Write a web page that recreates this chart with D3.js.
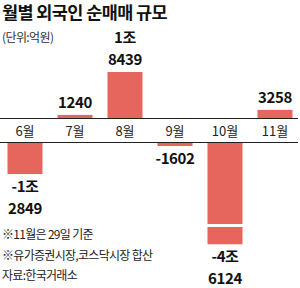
<!DOCTYPE html>
<html>
<head>
<meta charset="utf-8">
<script src="https://cdn.jsdelivr.net/npm/d3@7"></script>
<style>
  body { margin: 0; background: #fff; }
  svg { display: block; }
</style>
</head>
<body>
<svg id="chart" width="300" height="288"></svg>
<script>
const months = ['6월', '7월', '8월', '9월', '10월', '11월'];
const values = [-12849, 1240, 18439, -1602, -46124, 3258]; // 억원
const notes = ['※11월은 29일 기준', '※유가증권시장,코스닥시장 합산', '자료:한국거래소'];

const W = 300, H = 288;
const posBase = 118, negBase = 142;   // band between the two lines holds the month labels
const barColor = '#e6665e';
const numFont = "'Liberation Sans Narrow', 'Noto Sans CJK KR', sans-serif";
const krFont = "'Noto Sans CJK KR', sans-serif";
const cap = 41000; // 10월 bar is broken beyond this

const svg = d3.select('#chart');

// 억 -> 조/억 two line label
function fmt(v) {
  const sign = v < 0 ? '-' : '';
  const a = Math.abs(v);
  if (a >= 10000) return [sign + Math.floor(a / 10000) + '조', String(a % 10000)];
  return [sign + a];
}

const x = d3.scaleBand().domain(months).range([0, W]).paddingInner(0.3).paddingOuter(0.15);
const h = d3.scaleLinear().domain([0, 18439]).range([0, 46]);

// title
svg.append('text')
  .attr('x', 2).attr('y', 19)
  .attr('font-family', krFont).attr('font-size', 17.5).attr('font-weight', 700)
  .attr('letter-spacing', -0.6).attr('fill', '#111')
  .text('월별 외국인 순매매 규모');

svg.append('text')
  .attr('x', 2).attr('y', 42)
  .attr('font-family', krFont).attr('font-size', 12)
  .attr('letter-spacing', -0.6).attr('fill', '#333')
  .text('(단위:억원)');

const data = months.map((m, i) => ({ m, v: values[i] }));

// bars
const bars = svg.append('g');
bars.selectAll('rect')
  .data(data)
  .enter().append('rect')
  .attr('x', d => x(d.m))
  .attr('width', x.bandwidth())
  .attr('y', d => d.v >= 0 ? posBase - h(d.v) : negBase)
  .attr('height', d => h(Math.min(Math.abs(d.v), cap)))
  .attr('fill', barColor);

// break mark on capped bars
bars.selectAll('.brk')
  .data(data.filter(d => Math.abs(d.v) > cap))
  .enter().append('rect')
  .attr('class', 'brk')
  .attr('x', d => x(d.m) - 1)
  .attr('width', x.bandwidth() + 2)
  .attr('y', negBase + 82)
  .attr('height', 3)
  .attr('fill', '#fff');

// zero band lines
svg.append('g').selectAll('line')
  .data([posBase, negBase])
  .enter().append('line')
  .attr('x1', 0).attr('x2', 298)
  .attr('y1', d => d + 0.5).attr('y2', d => d + 0.5)
  .attr('stroke', '#222').attr('stroke-width', 1);

// month labels
svg.append('g').selectAll('text')
  .data(months)
  .enter().append('text')
  .attr('x', d => x(d) + x.bandwidth() / 2)
  .attr('y', 136)
  .attr('text-anchor', 'middle')
  .attr('font-family', krFont).attr('font-size', 13).attr('fill', '#222')
  .text(d => d);

// value labels
const lh = 22;
const vl = svg.append('g');
data.forEach(d => {
  const lines = fmt(d.v);
  const cx = x(d.m) + x.bandwidth() / 2;
  let y0;
  if (d.v >= 0) y0 = posBase - h(d.v) - 7 - (lines.length - 1) * lh;
  else y0 = negBase + h(Math.min(-d.v, cap)) + 18;
  lines.forEach((s, j) => {
    vl.append('text')
      .attr('x', cx).attr('y', y0 + j * lh)
      .attr('text-anchor', 'middle')
      .attr('font-family', numFont).attr('font-size', 15).attr('font-weight', 700)
      .attr('letter-spacing', -0.4).attr('fill', '#111')
      .text(s);
  });
});

// notes
svg.append('g').selectAll('text')
  .data(notes)
  .enter().append('text')
  .attr('x', 2)
  .attr('y', (d, i) => 239 + i * 20.5)
  .attr('font-family', krFont).attr('font-size', 12)
  .attr('letter-spacing', -0.7).attr('fill', '#222')
  .text(d => d);
</script>
</body>
</html>
